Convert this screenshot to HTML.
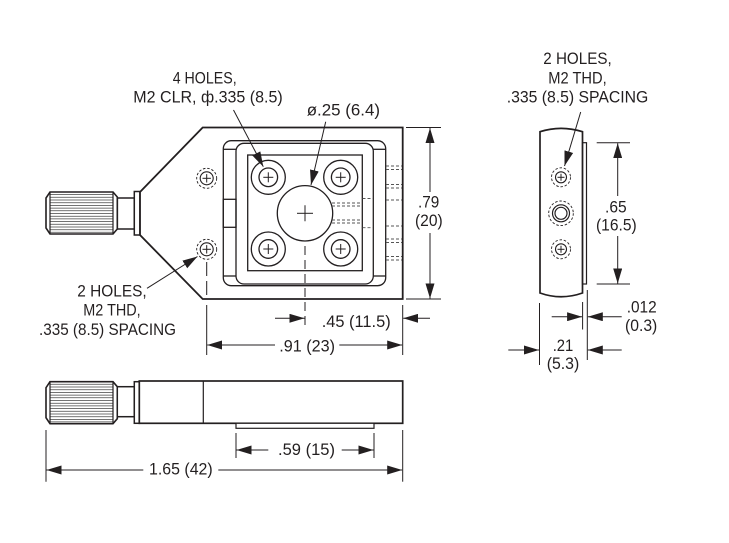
<!DOCTYPE html>
<html>
<head>
<meta charset="utf-8">
<style>
  html,body{margin:0;padding:0;background:#fff;}
  svg{display:block;}
  text{font-family:"Liberation Sans",sans-serif;font-size:17px;fill:#231f20;}
</style>
</head>
<body>
<svg width="729" height="543" viewBox="0 0 729 543" xmlns="http://www.w3.org/2000/svg">
  <defs>
    <marker id="a" markerUnits="userSpaceOnUse" markerWidth="16" markerHeight="9" refX="15" refY="4.5" orient="auto" viewBox="0 0 16 9">
      <path d="M0,0 L15,4.5 L0,9 z" fill="#231f20"/>
    </marker>
    <g id="knob">
      <path d="M50,192 L113,192 L117.3,197 L117.3,229 L113,234 L50,234 L46,228 L46,198 Z" fill="#fff" stroke="#231f20" stroke-width="1.6"/>
      <g stroke="#444" stroke-width="0.75">
        <line x1="50" y1="194.6" x2="113" y2="194.6"/>
        <line x1="50" y1="197.3" x2="113" y2="197.3"/>
        <line x1="50" y1="200" x2="113" y2="200"/>
        <line x1="50" y1="202.7" x2="113" y2="202.7"/>
        <line x1="50" y1="205.4" x2="113" y2="205.4"/>
        <line x1="50" y1="208.1" x2="113" y2="208.1"/>
        <line x1="50" y1="210.8" x2="113" y2="210.8"/>
        <line x1="50" y1="213.5" x2="113" y2="213.5"/>
        <line x1="50" y1="216.2" x2="113" y2="216.2"/>
        <line x1="50" y1="218.9" x2="113" y2="218.9"/>
        <line x1="50" y1="221.6" x2="113" y2="221.6"/>
        <line x1="50" y1="224.3" x2="113" y2="224.3"/>
        <line x1="50" y1="227" x2="113" y2="227"/>
        <line x1="50" y1="229.7" x2="113" y2="229.7"/>
        <line x1="50" y1="232.2" x2="113" y2="232.2"/>
      </g>
      <line x1="50" y1="192" x2="50" y2="234" stroke="#231f20" stroke-width="1.2"/>
      <line x1="113" y1="192" x2="113" y2="234" stroke="#231f20" stroke-width="1.2"/>
    </g>
  </defs>

  <rect x="0" y="0" width="729" height="543" fill="#fff"/>

  <!-- ================= TOP VIEW ================= -->
  <g fill="none" stroke="#231f20">
    <polygon points="202.7,127.5 402.7,127.5 402.7,299 202.7,299 140,235 140,192" stroke-width="1.8"/>
    <!-- shaft / flange -->
    <rect x="117.3" y="198" width="17" height="31" fill="#fff" stroke-width="1.5"/>
    <rect x="134.3" y="191.5" width="5.5" height="43.5" fill="#fff" stroke-width="1.5"/>
  </g>
  <use href="#knob"/>

  <g fill="none" stroke="#231f20" stroke-width="1.3">
    <!-- stage rounded rects -->
    <rect x="223.3" y="140.7" width="162.4" height="145" rx="8"/>
    <rect x="236" y="143.3" width="137.3" height="140.7" rx="8"/>
    <line x1="223.3" y1="149.3" x2="236" y2="149.3"/>
    <line x1="223.3" y1="276" x2="236" y2="276"/>
    <line x1="373.3" y1="149.3" x2="385.7" y2="149.3"/>
    <line x1="373.3" y1="276" x2="385.7" y2="276"/>
    <rect x="223.3" y="199.3" width="12.7" height="28"/>
    <!-- square -->
    <rect x="247.7" y="155" width="114.6" height="115.7"/>
    <!-- 4 counterbored holes -->
    <circle cx="268.3" cy="177.3" r="17"/><circle cx="268.3" cy="177.3" r="9.3"/>
    <circle cx="340.7" cy="177.3" r="17"/><circle cx="340.7" cy="177.3" r="9.3"/>
    <circle cx="268.3" cy="249" r="17"/><circle cx="268.3" cy="249" r="9.3"/>
    <circle cx="340.7" cy="249" r="17"/><circle cx="340.7" cy="249" r="9.3"/>
    <!-- center hole -->
    <circle cx="305" cy="213.3" r="27.7"/>
  </g>
  <g stroke="#231f20" stroke-width="1">
    <line x1="263.3" y1="177.3" x2="273.3" y2="177.3"/><line x1="268.3" y1="172.3" x2="268.3" y2="182.3"/>
    <line x1="335.7" y1="177.3" x2="345.7" y2="177.3"/><line x1="340.7" y1="172.3" x2="340.7" y2="182.3"/>
    <line x1="263.3" y1="249" x2="273.3" y2="249"/><line x1="268.3" y1="244" x2="268.3" y2="254"/>
    <line x1="335.7" y1="249" x2="345.7" y2="249"/><line x1="340.7" y1="244" x2="340.7" y2="254"/>
    <line x1="297" y1="213.3" x2="313" y2="213.3"/><line x1="305" y1="205.3" x2="305" y2="221.3"/>
  </g>

  <!-- hidden dashed lines on the right of the stage -->
  <g stroke="#555" stroke-width="0.9" stroke-dasharray="3,2" fill="none">
    <line x1="386" y1="166" x2="402" y2="166"/><line x1="386" y1="169.5" x2="402" y2="169.5"/>
    <line x1="386" y1="184.5" x2="402" y2="184.5"/><line x1="386" y1="188" x2="402" y2="188"/>
    <line x1="386" y1="200" x2="402" y2="200"/>
    <line x1="386" y1="226" x2="402" y2="226"/>
    <line x1="386" y1="239" x2="402" y2="239"/><line x1="386" y1="242.5" x2="402" y2="242.5"/>
    <line x1="386" y1="256.5" x2="402" y2="256.5"/><line x1="386" y1="260" x2="402" y2="260"/>
    <line x1="332" y1="203" x2="362" y2="203"/><line x1="332" y1="206" x2="362" y2="206"/>
    <line x1="332" y1="220" x2="362" y2="220"/><line x1="332" y1="223" x2="362" y2="223"/>
    <line x1="362.5" y1="198.5" x2="373" y2="198.5"/>
    <line x1="362.5" y1="227.7" x2="373" y2="227.7"/>
  </g>

  <!-- small threaded holes top view -->
  <g fill="none" stroke="#231f20">
    <circle cx="206.7" cy="178.3" r="6.5" stroke-width="1.1"/>
    <circle cx="206.7" cy="178.3" r="10" stroke-width="0.9" stroke-dasharray="2.5,1.8"/>
    <circle cx="206.7" cy="249.3" r="6.5" stroke-width="1.1"/>
    <circle cx="206.7" cy="249.3" r="10" stroke-width="0.9" stroke-dasharray="2.5,1.8"/>
    <g stroke-width="1">
      <line x1="202.5" y1="178.3" x2="210.9" y2="178.3"/><line x1="206.7" y1="174.1" x2="206.7" y2="182.5"/>
      <line x1="202.5" y1="249.3" x2="210.9" y2="249.3"/><line x1="206.7" y1="245.1" x2="206.7" y2="253.5"/>
    </g>
  </g>

  <!-- centerlines / extension lines top view -->
  <g stroke="#231f20" stroke-width="1" fill="none">
    <line x1="305" y1="246" x2="305" y2="327" stroke-dasharray="9,5"/>
    <line x1="206.7" y1="262" x2="206.7" y2="300" stroke-dasharray="14,5"/>
    <line x1="206.7" y1="305" x2="206.7" y2="355"/>
    <line x1="402.7" y1="305" x2="402.7" y2="355"/>
    <!-- .79 -->
    <line x1="406" y1="127.5" x2="441" y2="127.5"/>
    <line x1="406" y1="299" x2="441" y2="299"/>
    <line x1="430" y1="192" x2="430" y2="128" marker-end="url(#a)"/>
    <line x1="430" y1="233" x2="430" y2="298.5" marker-end="url(#a)"/>
    <!-- .45 -->
    <line x1="275" y1="318.3" x2="304.5" y2="318.3" marker-end="url(#a)"/>
    <line x1="430" y1="318.3" x2="403.2" y2="318.3" marker-end="url(#a)"/>
    <!-- .91 -->
    <line x1="275" y1="345" x2="207.2" y2="345" marker-end="url(#a)"/>
    <line x1="339.3" y1="345" x2="402.2" y2="345" marker-end="url(#a)"/>
    <!-- leaders -->
    <line x1="233.5" y1="110" x2="263.3" y2="166.7" marker-end="url(#a)"/>
    <line x1="325.7" y1="121.7" x2="311" y2="185" marker-end="url(#a)"/>
    <line x1="147" y1="288.3" x2="197.5" y2="256.5" marker-end="url(#a)"/>
  </g>

  <!-- ================= SIDE VIEW ================= -->
  <use href="#knob" transform="translate(0,189.7)"/>
  <g fill="#fff" stroke="#231f20" stroke-width="1.5">
    <rect x="117.3" y="386.7" width="17" height="30"/>
    <rect x="134.3" y="381.7" width="5" height="41.6"/>
    <rect x="139.3" y="381" width="263.4" height="42.3" stroke-width="1.7"/>
    <rect x="236" y="423.3" width="138" height="5" stroke-width="1.2"/>
  </g>
  <line x1="203.3" y1="381" x2="203.3" y2="423.3" stroke="#231f20" stroke-width="1.2"/>
  <g stroke="#231f20" stroke-width="1" fill="none">
    <line x1="236" y1="433" x2="236" y2="458"/>
    <line x1="374" y1="433" x2="374" y2="458"/>
    <line x1="268.3" y1="450" x2="236.5" y2="450" marker-end="url(#a)"/>
    <line x1="341.7" y1="450" x2="373.5" y2="450" marker-end="url(#a)"/>
    <line x1="46" y1="430" x2="46" y2="481.7"/>
    <line x1="402.7" y1="430" x2="402.7" y2="481.7"/>
    <line x1="143.3" y1="470" x2="46.5" y2="470" marker-end="url(#a)"/>
    <line x1="218.3" y1="470" x2="402.2" y2="470" marker-end="url(#a)"/>
  </g>

  <!-- ================= END VIEW ================= -->
  <g fill="none" stroke="#231f20">
    <path d="M540,131.7 Q561,125 582.5,131.7 L582.5,293 Q561,300.5 540,293 Z" stroke-width="1.7"/>
    <rect x="582.5" y="142.7" width="4" height="141.3" stroke-width="1.2"/>
    <circle cx="561" cy="177.3" r="5.5" stroke-width="1.1"/>
    <circle cx="561" cy="177.3" r="9.5" stroke-width="0.9" stroke-dasharray="2.5,1.8"/>
    <circle cx="561" cy="249.3" r="5.5" stroke-width="1.1"/>
    <circle cx="561" cy="249.3" r="9.5" stroke-width="0.9" stroke-dasharray="2.5,1.8"/>
    <circle cx="561" cy="213.3" r="8.5" stroke-width="1.2"/>
    <circle cx="561" cy="213.3" r="6" stroke-width="1.2"/>
    <circle cx="561" cy="213.3" r="12.3" stroke-width="0.9" stroke-dasharray="2.5,1.8"/>
    <g stroke-width="1">
      <line x1="557.5" y1="177.3" x2="564.5" y2="177.3"/><line x1="561" y1="173.8" x2="561" y2="180.8"/>
      <line x1="557.5" y1="249.3" x2="564.5" y2="249.3"/><line x1="561" y1="245.8" x2="561" y2="252.8"/>
    </g>
  </g>
  <g stroke="#231f20" stroke-width="1" fill="none">
    <!-- .65 -->
    <line x1="596.7" y1="142.7" x2="630" y2="142.7"/>
    <line x1="596.7" y1="284" x2="630" y2="284"/>
    <line x1="617.7" y1="196" x2="617.7" y2="143.2" marker-end="url(#a)"/>
    <line x1="617.7" y1="236" x2="617.7" y2="283.5" marker-end="url(#a)"/>
    <!-- extension lines bottom -->
    <line x1="582.6" y1="302" x2="582.6" y2="329.5"/>
    <line x1="587.3" y1="290" x2="587.3" y2="360"/>
    <line x1="539.5" y1="303" x2="539.5" y2="365"/>
    <!-- .012 -->
    <line x1="551.7" y1="316.7" x2="582.1" y2="316.7" marker-end="url(#a)"/>
    <line x1="621.7" y1="316.7" x2="587.8" y2="316.7" marker-end="url(#a)"/>
    <!-- .21 -->
    <line x1="508.3" y1="350" x2="539" y2="350" marker-end="url(#a)"/>
    <line x1="621.7" y1="350" x2="587.8" y2="350" marker-end="url(#a)"/>
    <!-- leader -->
    <line x1="580.7" y1="112" x2="564.5" y2="166" marker-end="url(#a)"/>
  </g>

  <!-- ================= TEXT ================= -->
  <text x="172.7" y="83.3" textLength="64" lengthAdjust="spacingAndGlyphs">4 HOLES,</text>
  <text x="133.3" y="102.3" textLength="149.4" lengthAdjust="spacingAndGlyphs">M2 CLR, ф.335 (8.5)</text>
  <text x="306.7" y="115.5" textLength="73.3" lengthAdjust="spacingAndGlyphs">ø.25 (6.4)</text>
  <text x="418" y="207.3" textLength="21.3" lengthAdjust="spacingAndGlyphs">.79</text>
  <text x="415" y="226" textLength="27.7" lengthAdjust="spacingAndGlyphs">(20)</text>
  <text x="321.7" y="327" textLength="69" lengthAdjust="spacingAndGlyphs">.45 (11.5)</text>
  <text x="279.3" y="351.5" textLength="55.7" lengthAdjust="spacingAndGlyphs">.91 (23)</text>

  <text x="77.3" y="296.7" textLength="69.4" lengthAdjust="spacingAndGlyphs">2 HOLES,</text>
  <text x="83.3" y="315.7" textLength="57.4" lengthAdjust="spacingAndGlyphs">M2 THD,</text>
  <text x="39" y="335" textLength="137" lengthAdjust="spacingAndGlyphs">.335 (8.5) SPACING</text>

  <text x="543.3" y="64" textLength="68.4" lengthAdjust="spacingAndGlyphs">2 HOLES,</text>
  <text x="548.3" y="83.3" textLength="58.4" lengthAdjust="spacingAndGlyphs">M2 THD,</text>
  <text x="506.7" y="102.7" textLength="141.6" lengthAdjust="spacingAndGlyphs">.335 (8.5) SPACING</text>

  <text x="605" y="212.7" textLength="21.7" lengthAdjust="spacingAndGlyphs">.65</text>
  <text x="596" y="230.5" textLength="40.7" lengthAdjust="spacingAndGlyphs">(16.5)</text>
  <text x="626.7" y="312.7" textLength="30" lengthAdjust="spacingAndGlyphs">.012</text>
  <text x="625" y="331" textLength="32.3" lengthAdjust="spacingAndGlyphs">(0.3)</text>
  <text x="552.7" y="351" textLength="20.6" lengthAdjust="spacingAndGlyphs">.21</text>
  <text x="546.7" y="369" textLength="32.6" lengthAdjust="spacingAndGlyphs">(5.3)</text>

  <text x="278" y="455" textLength="57" lengthAdjust="spacingAndGlyphs">.59 (15)</text>
  <text x="149" y="474.5" textLength="63.7" lengthAdjust="spacingAndGlyphs">1.65 (42)</text>
</svg>
</body>
</html>
